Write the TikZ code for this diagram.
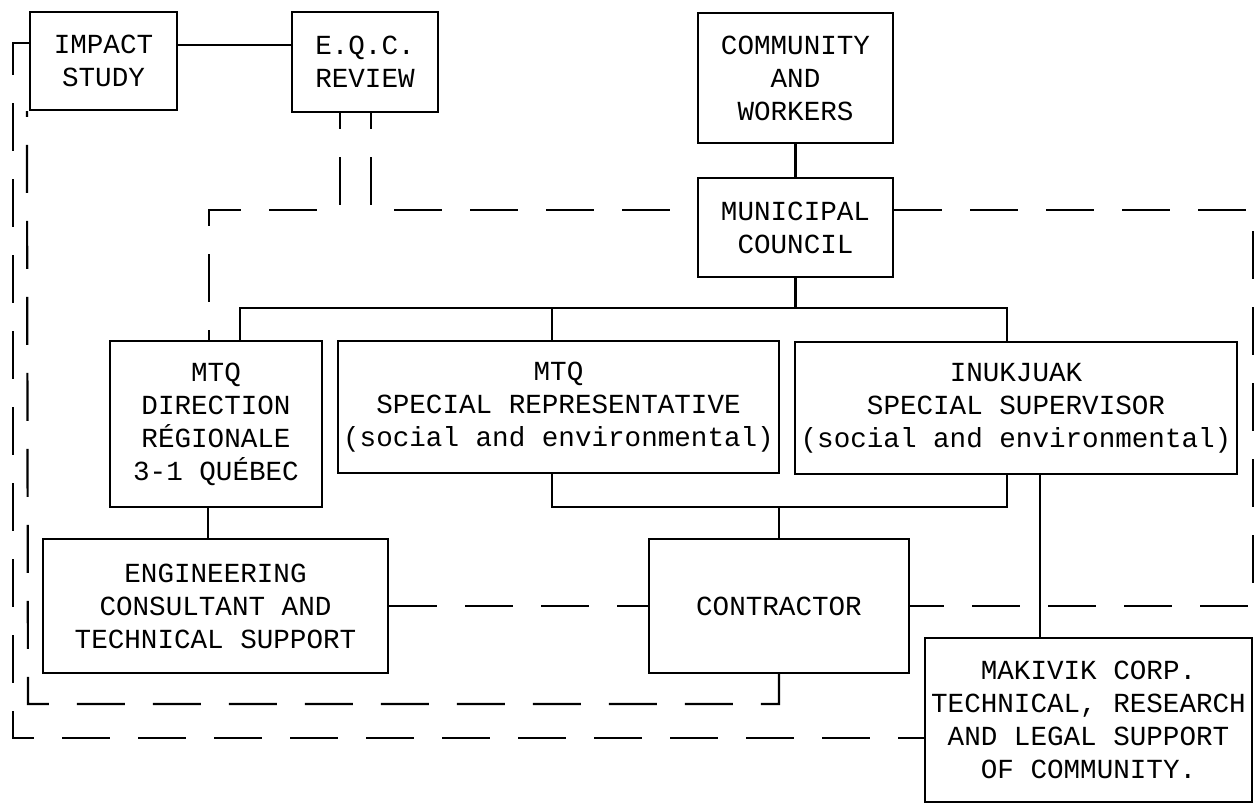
\documentclass[tikz,border=0pt]{standalone}
\usepackage{fontspec}
\setmainfont{Liberation Mono}
\begin{document}
\begin{tikzpicture}[x=0.5pt,y=-0.5pt,
  box/.style={draw, line width=1.1pt, align=center, inner sep=1pt, font=\fontsize{13.8}{16.5}\selectfont},
  conn/.style={line width=1.1pt},
  dsh/.style={line width=1.1pt, dash pattern=on 24pt off 14pt}]
\useasboundingbox (0,0) rectangle (1255,804);
\fill[white] (0,0) rectangle (1255,804);
% boxes
\node[box, minimum width=73.5pt, minimum height=49pt] (imp) at (103.5,61) {IMPACT\\STUDY};
\node[box, minimum width=73pt, minimum height=50pt] (eqc) at (365,62) {E.Q.C.\\REVIEW};
\node[box, minimum width=97.5pt, minimum height=65pt] (com) at (795.5,78) {COMMUNITY\\AND\\WORKERS};
\node[box, minimum width=97.5pt, minimum height=49.5pt] (mun) at (795.5,227.5) {MUNICIPAL\\COUNCIL};
\node[box, minimum width=106pt, minimum height=83pt] (mtqd) at (216,424) {MTQ\\DIRECTION\\RÉGIONALE\\3-1 QUÉBEC};
\node[box, minimum width=220.5pt, minimum height=66pt] (mtqs) at (558.5,407) {MTQ\\SPECIAL REPRESENTATIVE\\(social and environmental)};
\node[box, minimum width=221pt, minimum height=66pt] (inuk) at (1016,408) {INUKJUAK\\SPECIAL SUPERVISOR\\(social and environmental)};
\node[box, minimum width=172.5pt, minimum height=67pt] (eng) at (215.5,606) {ENGINEERING\\CONSULTANT AND\\TECHNICAL SUPPORT};
\node[box, minimum width=130pt, minimum height=67pt] (con) at (779,606) {CONTRACTOR};
\node[box, minimum width=163.5pt, minimum height=82pt] (mak) at (1088.5,720) {MAKIVIK CORP.\\TECHNICAL, RESEARCH\\AND LEGAL SUPPORT\\OF COMMUNITY.};
% helper coordinates
\coordinate (bus) at (795.5,308);
\coordinate (lbus) at (779,507);
\coordinate (mtqdN) at ([xshift=-3.5pt]mtqd.north);
\coordinate (mtqdB) at ([xshift=12pt]mtqd.north);
\coordinate (mtqdS) at ([xshift=-4pt]mtqd.south);
\coordinate (mtqsN) at ([xshift=-3.25pt]mtqs.north);
\coordinate (mtqsS) at ([xshift=-3.25pt]mtqs.south);
\coordinate (inukN) at ([xshift=-4.5pt]inuk.north);
\coordinate (inukS) at ([xshift=-4.5pt]inuk.south);
\coordinate (inukM) at ([xshift=12pt]inuk.south);
\coordinate (eqcL) at ([xshift=-12.5pt]eqc.south);
\coordinate (eqcR) at ([xshift=3pt]eqc.south);
% solid connectors
\draw[conn] (imp.east |- 0,45) -- (eqc.west |- 0,45);
\draw[conn] (com.south) -- (mun.north);
\draw[conn] (mun.south) -- (bus);
\draw[conn] (mtqdB) |- (bus) -| (inukN);
\draw[conn] (mtqsN) -- (mtqsN |- bus);
\draw[conn] (mtqsS) |- (lbus) -| (inukS);
\draw[conn] (lbus) -- (con.north);
\draw[conn] (mtqdS) -- (mtqdS |- eng.north);
\draw[conn] (inukM) -- (inukM |- mak.north);
% dashed connectors
\draw[dsh] (imp.west |- 0,43) -- (13,43) -- (13,738) -- (mak.west |- 0,738);
\draw[dsh] (con.south) -- (con.south |- 0,704) -- (28,704) -- ([xshift=-1pt]imp.south west);
\draw[dsh, dash phase=16pt] (eqcL) -- (eqcL |- 0,210) -- (mtqdN |- 0,210) -- (mtqdN);
\draw[dsh, dash phase=16pt] (eqcR) -- (eqcR |- 0,210) -- (mun.west |- 0,210);
\draw[dsh] (mun.east |- 0,210) -- (1253,210) -- (1253,606) -- (con.east);
\draw[dsh] (eng.east) -- (con.west);
\end{tikzpicture}
\end{document}
